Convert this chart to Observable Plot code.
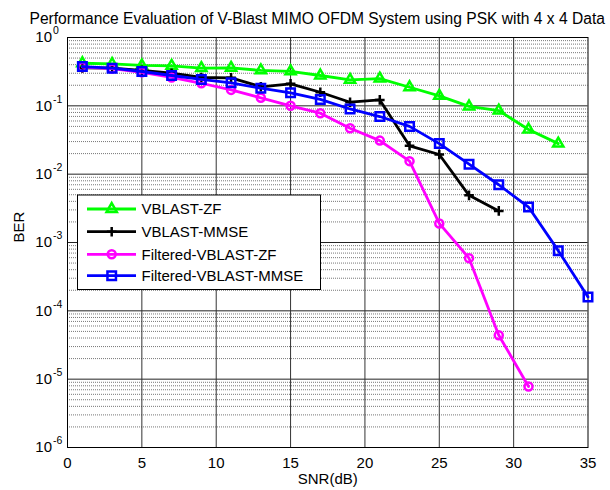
<!DOCTYPE html>
<html><head><meta charset="utf-8">
<script src="https://cdn.jsdelivr.net/npm/d3@7"></script>
<script src="https://cdn.jsdelivr.net/npm/@observablehq/plot@0.6"></script>
<style>
body{margin:0;background:#fff;}
svg{font-family:"Liberation Sans",Arial,sans-serif;}
</style></head>
<body><div id="chart"></div>
<script>
const titleText = "Performance Evaluation of V-Blast MIMO OFDM System using PSK with 4 x 4 Data";
const xLabel = "SNR(dB)";
const yLabel = "BER";
const xTicks = [0,5,10,15,20,25,30,35];
const yDecades = [1e0,1e-1,1e-2,1e-3,1e-4,1e-5,1e-6];
const yExponents = ["0","-1","-2","-3","-4","-5","-6"];
const seriesNames = ["VBLAST-ZF","VBLAST-MMSE","Filtered-VBLAST-ZF","Filtered-VBLAST-MMSE"];

const zfSNR = [1,3,5,7,9,11,13,15,17,19,21,23,25,27,29,31,33];
const zfBER = [0.42,0.41,0.39,0.385,0.356,0.36,0.33,0.32,0.278,0.24,0.25,0.187,0.14,0.098,0.085,0.045,0.028];
const mmseSNR = [1,3,5,7,9,11,13,15,17,19,21,23,25,27,29];
const mmseBER = [0.36,0.356,0.33,0.30,0.26,0.257,0.19,0.21,0.158,0.113,0.122,0.026,0.0194,0.0049,0.0029];
const fzfSNR = [1,3,5,7,9,11,13,15,17,19,21,23,25,27,29,31];
const fzfBER = [0.37,0.35,0.31,0.26,0.214,0.171,0.131,0.1,0.078,0.047,0.031,0.0155,0.0019,0.00059,4.4e-5,7.8e-6];
const fmmseSNR = [1,3,5,7,9,11,13,15,17,19,21,23,25,27,29,31,33,35];
const fmmseBER = [0.376,0.356,0.318,0.278,0.243,0.217,0.181,0.155,0.124,0.09,0.0697,0.05,0.028,0.014,0.007,0.0033,0.00076,0.00016];

const styles = [
  {color:"#00ff00", symbol:"triangle", r:3.8},
  {color:"#000000", symbol:"plus", r:3.2},
  {color:"#ff00ff", symbol:"circle", r:4},
  {color:"#0000ff", symbol:"square", r:4.8}
];
const raw = [[zfSNR,zfBER],[mmseSNR,mmseBER],[fzfSNR,fzfBER],[fmmseSNR,fmmseBER]];
const series = raw.map(([xs,ys],i)=>xs.map((x,j)=>({snr:x, ber:ys[j], name:seriesNames[i]})));

const minorY = [];
for (let k=-6;k<0;k++) for (let m=2;m<=9;m++) minorY.push(m*Math.pow(10,k));
const majorYInner = yDecades.slice(1,-1);
const majorXInner = xTicks.slice(1,-1);

const marks = [
  Plot.ruleY(minorY, {stroke:"#777", strokeWidth:1, strokeDasharray:"1,1"}),
  Plot.ruleY(majorYInner, {stroke:"#222", strokeWidth:1}),
  Plot.ruleX(majorXInner, {stroke:"#333", strokeWidth:1}),
  Plot.frame({stroke:"#000", strokeWidth:1}),
  Plot.axisX({ticks:xTicks, tickSize:0, tickPadding:10, fontSize:15, label:null, tickFormat:d=>String(d)}),
  Plot.axisY({ticks:[], label:null}),
  Plot.text(yDecades, {y:d=>d, frameAnchor:"left", dx:-15.5, textAnchor:"end", text:()=> "10", fontSize:15}),
  Plot.text(yDecades, {y:d=>d, frameAnchor:"left", dx:-14.5, dy:-6.5, textAnchor:"start", text:(d,i)=>yExponents[i], fontSize:10.5}),
  Plot.text([xLabel], {frameAnchor:"bottom", dy:32, lineAnchor:"middle", fontSize:15}),
  Plot.text([yLabel], {frameAnchor:"left", dx:-48, rotate:-90, fontSize:15}),
  Plot.text([titleText], {frameAnchor:"top-left", dx:-38, dy:-19, lineAnchor:"middle", textAnchor:"start", fontSize:15.6})
];
series.forEach((data,i)=>{
  const s = styles[i];
  marks.push(Plot.line(data, {x:"snr", y:"ber", stroke:s.color, strokeWidth:2.8}));
  marks.push(Plot.dot(data, {x:"snr", y:"ber", stroke:s.color, fill:"none", symbol:()=>s.symbol, r:s.r, strokeWidth:2.5}));
});

const plot = Plot.plot({
  width:610, height:490,
  marginLeft:67, marginRight:22.5, marginTop:37, marginBottom:43,
  style:{fontFamily:"Liberation Sans, Arial, sans-serif", color:"#000", background:"#fff", overflow:"visible"},
  x:{domain:[0,35]},
  y:{type:"log", domain:[1e-6,1]},
  symbol:{type:"identity"},
  marks
});
document.getElementById("chart").appendChild(plot);

// legend
const svg = d3.select(plot);
const lg = svg.append("g").attr("class","legend").attr("text-anchor","start");
lg.append("rect").attr("x",77.5).attr("y",195).attr("width",243).attr("height",94.5)
  .attr("fill","#fff").attr("stroke","#000").attr("stroke-width",1);
const rowY = [209,231.7,254.3,275.7];
const symMap = {triangle:d3.symbolTriangle, plus:d3.symbolPlus, circle:d3.symbolCircle, square:d3.symbolSquare};
seriesNames.forEach((n,i)=>{
  const s = styles[i];
  lg.append("line").attr("x1",87).attr("x2",136).attr("y1",rowY[i]).attr("y2",rowY[i])
    .attr("stroke",s.color).attr("stroke-width",2.8);
  lg.append("path").attr("d", d3.symbol(symMap[s.symbol], Math.PI*s.r*s.r)())
    .attr("transform",`translate(111.7,${rowY[i]})`).attr("fill","none").attr("stroke",s.color).attr("stroke-width",2.5);
  lg.append("text").attr("x",141.5).attr("y",rowY[i]).attr("dy","0.35em").attr("font-size",15).attr("text-anchor","start").text(n);
});
</script></body></html>
